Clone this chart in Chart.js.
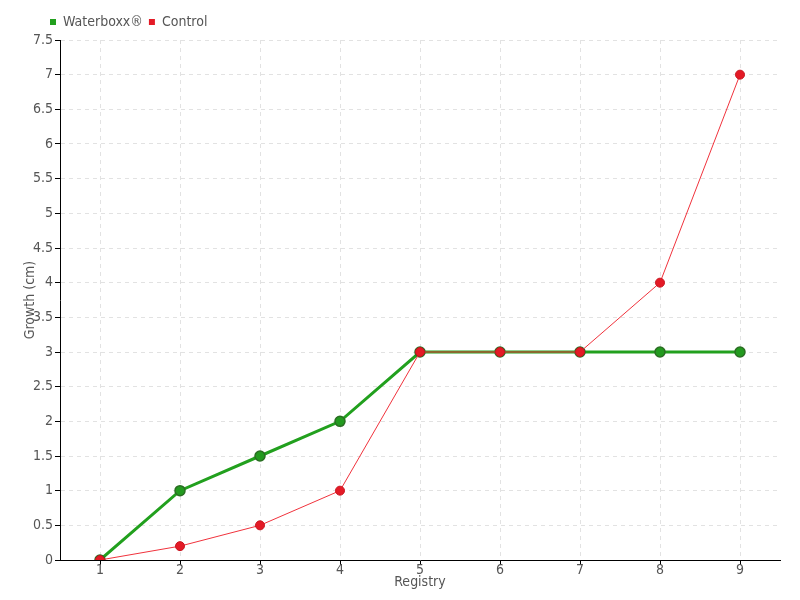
<!DOCTYPE html>
<html>
<head>
<meta charset="utf-8">
<script src="https://cdn.jsdelivr.net/npm/chart.js@4/dist/chart.umd.min.js"></script>
<style>
  html, body { margin: 0; padding: 0; background: #fff; }
  #wrap { width: 800px; height: 600px; }
</style>
</head>
<body>
<div id="wrap"><canvas id="growthChart" width="800" height="600"></canvas></div>
<script>
// data
const registries = ['1', '2', '3', '4', '5', '6', '7', '8', '9'];
const waterboxxGrowth = [0, 1, 1.5, 2, 3, 3, 3, 3, 3];
const controlGrowth = [0, 0.2, 0.5, 1, 3, 3, 3, 4, 7];

const FONT = "'DejaVu Sans Condensed', 'Roboto', sans-serif";
const TEXT_COLOR = '#555';

// legend: fixed height, moved right/down
const legendShift = {
  id: 'legendShift',
  beforeInit: function (chart) {
    const fit = chart.legend.fit;
    chart.legend.fit = function () {
      fit.bind(chart.legend)();
      this.height = 40;
    };
  },
  afterLayout: function (chart) {
    chart.legend.left += 44;
    chart.legend.top += 9;
  }
};

const ctx = document.getElementById('growthChart').getContext('2d');
new Chart(ctx, {
  type: 'line',
  data: {
    labels: registries,
    datasets: [{
      label: 'Control',
      data: controlGrowth,
      borderColor: '#f0323c',
      backgroundColor: '#e41a26',
      borderWidth: 1,
      pointRadius: 4.5,
      pointBorderColor: '#c8141e',
      pointBorderWidth: 1,
      pointBackgroundColor: '#e41a26',
      tension: 0
    }, {
      label: 'Waterboxx®',
      data: waterboxxGrowth,
      borderColor: '#22a01e',
      backgroundColor: '#22a01e',
      borderWidth: 3,
      pointRadius: 5,
      pointBorderColor: '#2a6e22',
      pointBorderWidth: 1.5,
      pointBackgroundColor: '#239a1f',
      tension: 0
    }]
  },
  options: {
    responsive: false,
    animation: false,
    layout: { padding: { left: 0, right: 20, top: 0, bottom: 0 } },
    plugins: {
      tooltip: { enabled: false },
      legend: {
        position: 'top',
        align: 'start',
        reverse: true,
        labels: {
          boxWidth: 6,
          boxHeight: 6,
          padding: 6,
          color: TEXT_COLOR,
          font: { family: FONT, size: 14 },
          generateLabels: function (chart) {
            const items = Chart.defaults.plugins.legend.labels.generateLabels(chart);
            items.forEach(function (it) { it.lineWidth = 0; });
            return items;
          }
        }
      }
    },
    scales: {
      x: {
        offset: true,
        grid: {
          color: '#e2e2e2',
          tickColor: '#000',
          tickLength: 5,
          offset: false
        },
        border: { color: '#000', width: 1, dash: [4, 4] },
        ticks: {
          color: TEXT_COLOR,
          padding: -3,
          maxRotation: 0,
          font: { family: FONT, size: 14 }
        },
        title: {
          display: true,
          text: 'Registry',
          color: TEXT_COLOR,
          padding: { top: 0, bottom: 9 },
          font: { family: FONT, size: 14 }
        },
        afterFit: function (scale) { scale.height = 40; }
      },
      y: {
        min: 0,
        max: 7.5,
        grid: {
          color: '#e2e2e2',
          tickColor: '#000',
          tickLength: 5
        },
        border: { color: '#000', width: 1, dash: [4, 4] },
        ticks: {
          stepSize: 0.5,
          color: TEXT_COLOR,
          padding: 2,
          font: { family: FONT, size: 14 },
          callback: function (value) { return String(value); }
        },
        title: {
          display: true,
          text: 'Growth (cm)',
          color: TEXT_COLOR,
          padding: { top: 22, bottom: 0 },
          font: { family: FONT, size: 14 }
        },
        afterFit: function (scale) { scale.width = 60; }
      }
    }
  },
  plugins: [legendShift]
});
</script>
</body>
</html>
